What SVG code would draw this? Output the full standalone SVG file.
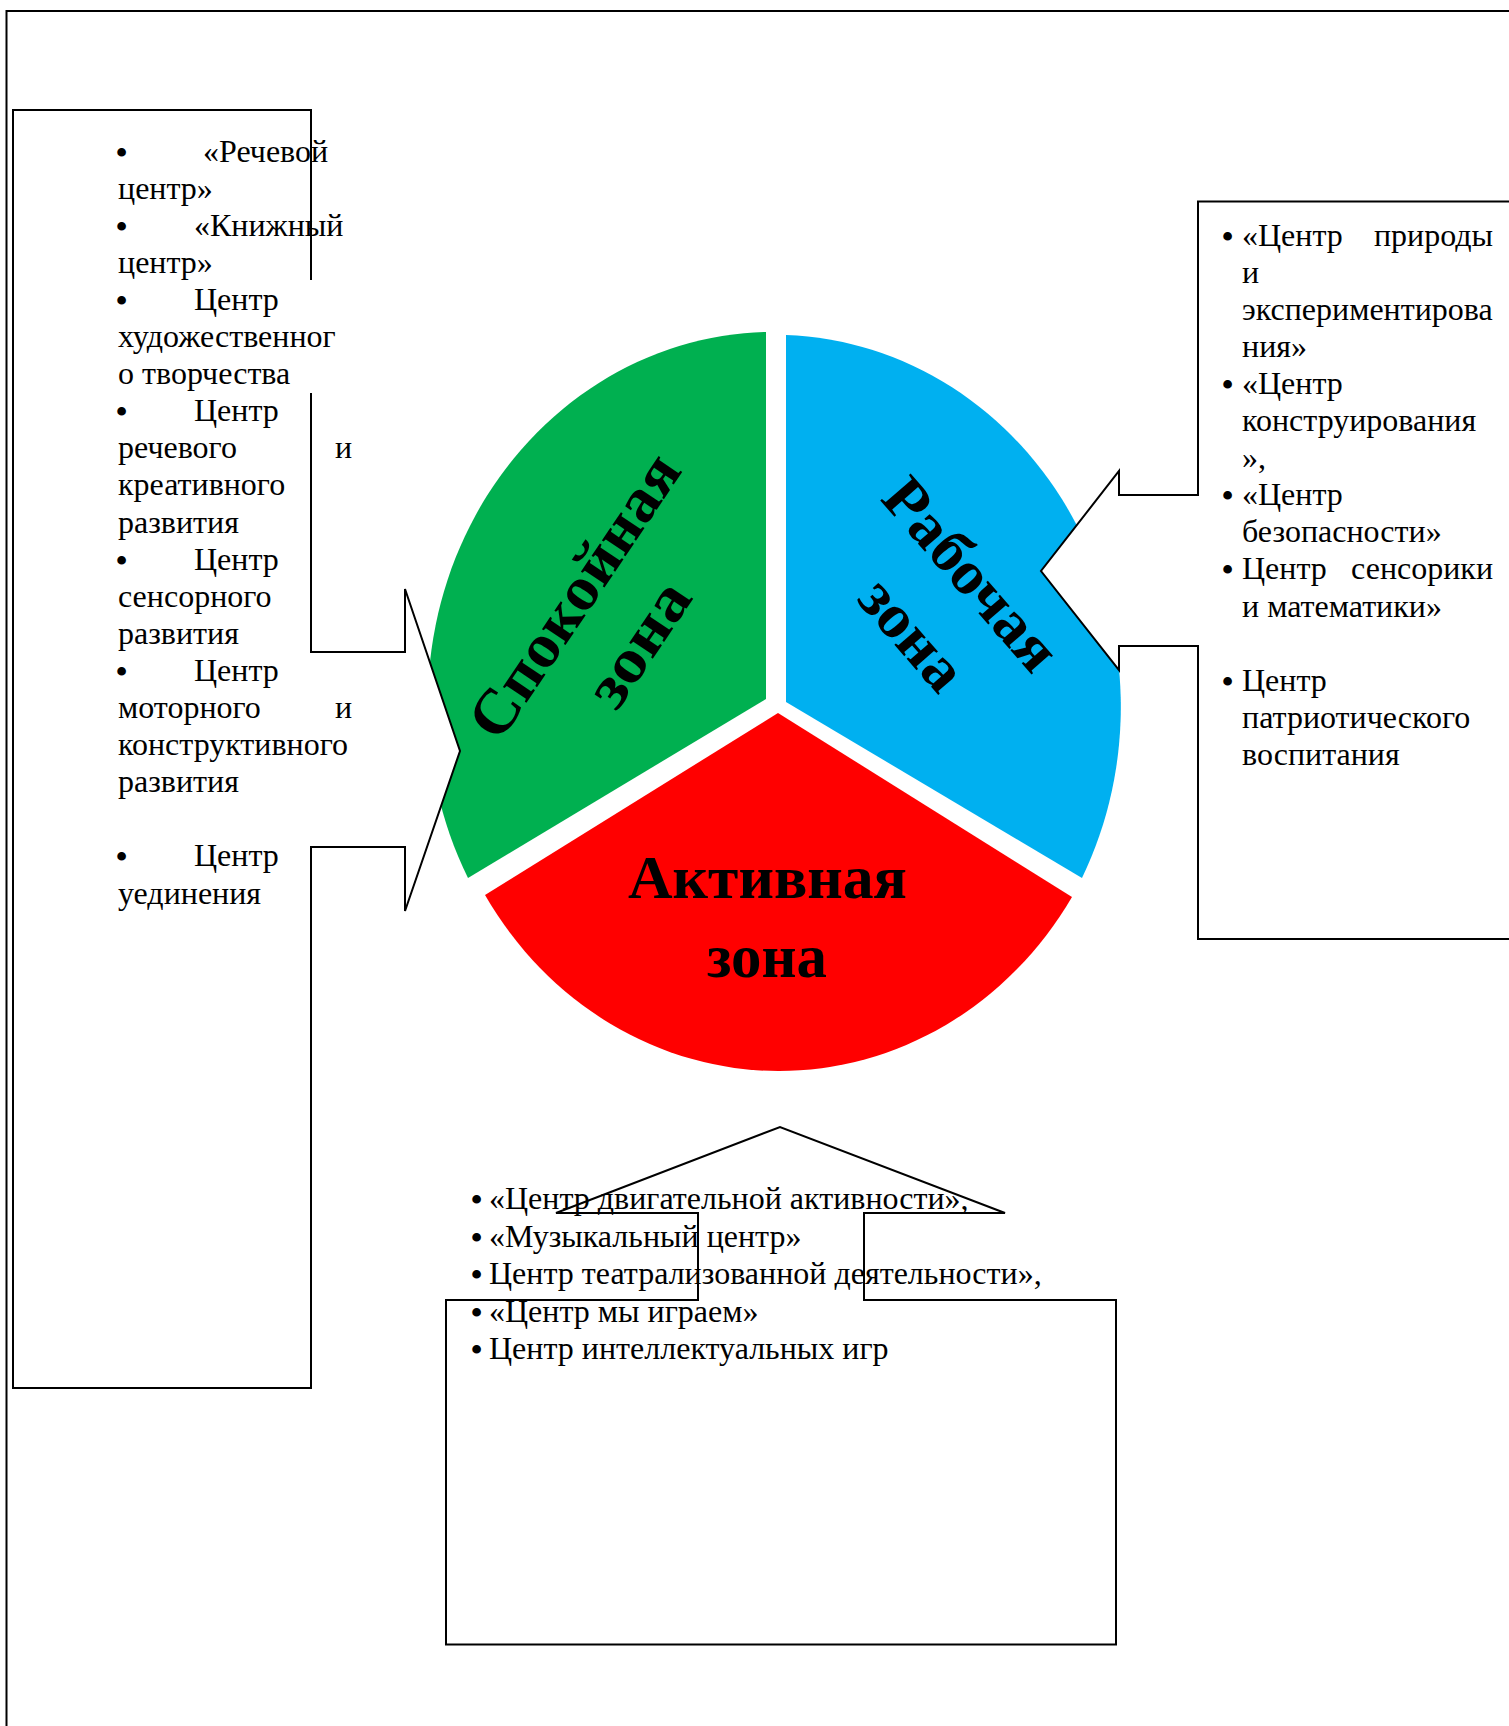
<svg xmlns="http://www.w3.org/2000/svg" width="1509" height="1726" viewBox="0 0 1509 1726">
<style>
.t{font-family:"Liberation Serif","Times New Roman",serif;font-size:32px;fill:#000}
.b{font-family:"Liberation Serif","Times New Roman",serif;font-size:32px;font-weight:bold;fill:#000}
.lbl{font-family:"Liberation Serif","Times New Roman",serif;font-weight:bold;font-size:62px;fill:#000}
.co{fill:#fff;stroke:#000;stroke-width:2;stroke-linejoin:miter}
.frame{fill:none;stroke:#000;stroke-width:2}
</style>
<rect width="1509" height="1726" fill="#fff"/>
<g id="frame"><path class="frame" d="M1510,11 H6.5 V1727"/></g>

<g id="pie">
  <g id="node-spokoinaya">
    <path d="M766,699 L766,332 A346,372 0 0 0 468,878 Z" fill="#00B050"/>
    <g transform="translate(578,598) rotate(-56)">
      <text class="lbl" x="0" y="16" text-anchor="middle" textLength="329" lengthAdjust="spacingAndGlyphs">Спокойная</text>
      <text class="lbl" x="-4" y="96" text-anchor="middle" textLength="138" lengthAdjust="spacingAndGlyphs">зона</text>
    </g>
  </g>
  <g id="node-rabochaya">
    <path d="M786,702 L786,335 A346,372 0 0 1 1082,878 Z" fill="#00B0F0"/>
    <g transform="translate(968,577) rotate(49)">
      <text class="lbl" x="0" y="16" text-anchor="middle" textLength="234" lengthAdjust="spacingAndGlyphs" fill="#0a1020">Рабочая</text>
      <text class="lbl" x="7" y="100" text-anchor="middle" textLength="127" lengthAdjust="spacingAndGlyphs" fill="#0a1020">зона</text>
    </g>
  </g>
  <g id="node-aktivnaya">
    <path d="M778,713 L1072,897 A346,372 0 0 1 485,895 Z" fill="#FF0000"/>
    <text class="lbl" x="767.5" y="898" text-anchor="middle" textLength="279" lengthAdjust="spacingAndGlyphs">Активная</text>
    <text class="lbl" x="767" y="977" text-anchor="middle" textLength="120" lengthAdjust="spacingAndGlyphs">зона</text>
  </g>
</g>

<g id="connectors"></g>

<g id="node-callout-left">
  <path class="co" d="M311,280 V110 H13 V1388 H311 V847 H405 V911 L460,751 L405,589 V652 H311 V393"/>
  <g class="b">
    <text x="116" y="162.5">•</text><text x="116" y="236.7">•</text><text x="116" y="310.9">•</text><text x="116" y="422.2">•</text><text x="116" y="570.6">•</text><text x="116" y="681.9">•</text><text x="116" y="867.4">•</text>
  </g>
  <text class="t">
    <tspan x="203" y="161.5">«Речевой</tspan>
    <tspan x="118" y="198.6">центр»</tspan>
    <tspan x="194" y="235.7">«Книжный</tspan>
    <tspan x="118" y="272.8">центр»</tspan>
    <tspan x="194" y="309.9">Центр</tspan>
    <tspan x="118" y="347">художественног</tspan>
    <tspan x="118" y="384.1">о творчества</tspan>
    <tspan x="194" y="421.2">Центр</tspan>
    <tspan x="118" y="458.3">речевого</tspan>
    <tspan x="118" y="495.4">креативного</tspan>
    <tspan x="118" y="532.5">развития</tspan>
    <tspan x="194" y="569.6">Центр</tspan>
    <tspan x="118" y="606.7">сенсорного</tspan>
    <tspan x="118" y="643.8">развития</tspan>
    <tspan x="194" y="680.9">Центр</tspan>
    <tspan x="118" y="718">моторного</tspan>
    <tspan x="118" y="755.1">конструктивного</tspan>
    <tspan x="118" y="792.2">развития</tspan>
    <tspan x="194" y="866.4">Центр</tspan>
    <tspan x="118" y="903.5">уединения</tspan>
  </text>
  <text class="t" text-anchor="end"><tspan x="352" y="458.3">и</tspan><tspan x="352" y="718">и</tspan></text>
</g>

<g id="node-callout-right">
  <path class="co" d="M1512,201.5 H1198 V495 H1119 V471 L1041,571 L1119,670 V646 H1198 V939 H1512"/>
  <g class="b">
    <text x="1222" y="246.5">•</text><text x="1222" y="394.9">•</text><text x="1222" y="506.2">•</text><text x="1222" y="580.4">•</text><text x="1222" y="691.7">•</text>
  </g>
  <text class="t">
    <tspan x="1242" y="245.5">«Центр</tspan>
    <tspan x="1242" y="282.6">и</tspan>
    <tspan x="1242" y="319.7">экспериментирова</tspan>
    <tspan x="1242" y="356.8">ния»</tspan>
    <tspan x="1242" y="393.9">«Центр</tspan>
    <tspan x="1242" y="431">конструирования</tspan>
    <tspan x="1242" y="468.1">»,</tspan>
    <tspan x="1242" y="505.2">«Центр</tspan>
    <tspan x="1242" y="542.3">безопасности»</tspan>
    <tspan x="1242" y="579.4">Центр</tspan>
    <tspan x="1242" y="616.5">и математики»</tspan>
    <tspan x="1242" y="690.7">Центр</tspan>
    <tspan x="1242" y="727.8">патриотического</tspan>
    <tspan x="1242" y="764.9">воспитания</tspan>
  </text>
  <text class="t" text-anchor="end"><tspan x="1493" y="245.5">природы</tspan><tspan x="1493" y="579.4">сенсорики</tspan></text>
</g>

<g id="node-callout-bottom">
  <path class="co" d="M698,1300 H446 V1644.5 H1116 V1300 H864 V1213 H1005 L780,1127 L556,1213 H698 Z"/>
  <g class="b">
    <text x="471" y="1210">•</text><text x="471" y="1247.5">•</text><text x="471" y="1285">•</text><text x="471" y="1322.5">•</text><text x="471" y="1360">•</text>
  </g>
  <text class="t">
    <tspan x="489" y="1209">«Центр двигательной активности»,</tspan>
    <tspan x="489" y="1246.5">«Музыкальный центр»</tspan>
    <tspan x="489" y="1284">Центр театрализованной деятельности»,</tspan>
    <tspan x="489" y="1321.5">«Центр мы играем»</tspan>
    <tspan x="489" y="1359">Центр интеллектуальных игр</tspan>
  </text>
</g>
</svg>
